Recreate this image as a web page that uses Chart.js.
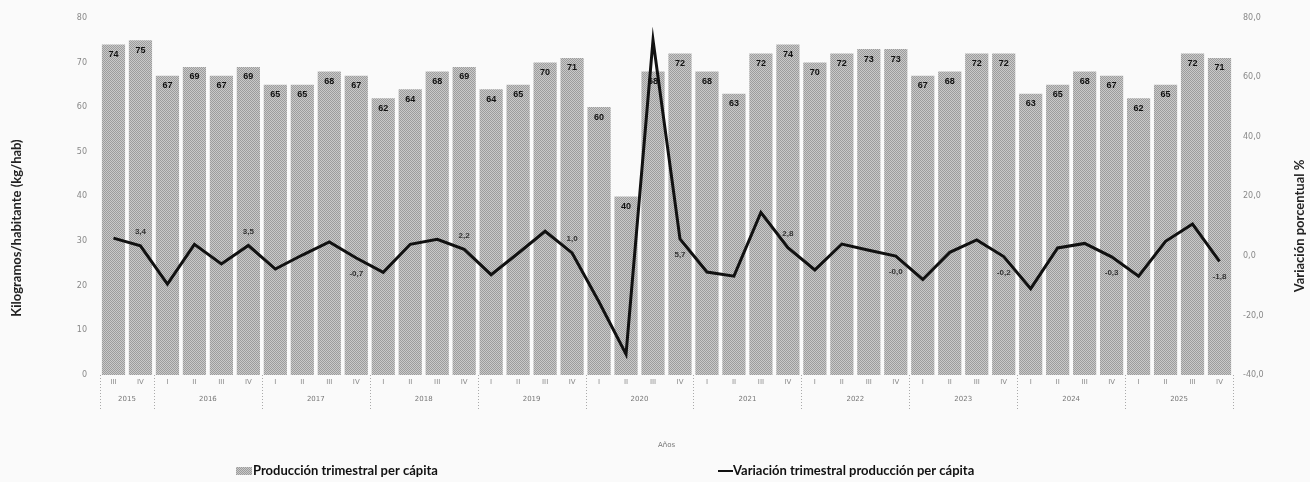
<!DOCTYPE html>
<html><head><meta charset="utf-8">
<script src="https://cdn.jsdelivr.net/npm/chart.js@4.4.1/dist/chart.umd.min.js"></script>
<style>html,body{margin:0;padding:0;background:#fafafa;}canvas{display:block;}</style>
</head><body>
<canvas id="c" width="1310" height="482"></canvas>
<script>
const quarters = ['III','IV','I','II','III','IV','I','II','III','IV','I','II','III','IV','I','II','III','IV','I','II','III','IV','I','II','III','IV','I','II','III','IV','I','II','III','IV','I','II','III','IV','I','II','III','IV'];
const quarterYears = ['2015','2015','2016','2016','2016','2016','2017','2017','2017','2017','2018','2018','2018','2018','2019','2019','2019','2019','2020','2020','2020','2020','2021','2021','2021','2021','2022','2022','2022','2022','2023','2023','2023','2023','2024','2024','2024','2024','2025','2025','2025','2025'];
const production = [74,75,67,69,67,69,65,65,68,67,62,64,68,69,64,65,70,71,60,40,68,72,68,63,72,74,70,72,73,73,67,68,72,72,63,65,68,67,62,65,72,71];
const variation = [6.0,3.4,-9.5,3.9,-2.7,3.5,-4.4,0.3,4.7,-0.7,-5.5,3.9,5.6,2.2,-6.3,0.9,8.3,1.0,-15.5,-33.0,72.5,5.7,-5.4,-6.8,14.6,2.8,-4.7,4.0,1.9,-0.04,-7.9,1.2,5.4,-0.2,-11.0,2.7,4.2,-0.3,-6.8,4.9,10.7,-1.8];
const seriesNames = ['Producción trimestral per cápita','Variación trimestral producción per cápita'];
const leftTitle = 'Kilogramos/habitante (kg/hab)';
const rightTitle = 'Variación porcentual %';
const xTitle = 'Años';

function makePattern(){
  const c=document.createElement('canvas'); c.width=4; c.height=4;
  const g=c.getContext('2d');
  g.fillStyle='#c9c9c9'; g.fillRect(0,0,4,4);
  g.fillStyle='#9c9c9c';
  for(let y=0;y<4;y++) for(let x=0;x<4;x++) if((x+y)%2===0) g.fillRect(x,y,1,1);
  return g.createPattern(c,'repeat');
}
const barFill = makePattern();
const fmt = v => v.toFixed(1).replace('.',',');

const overlay = {
  id:'overlay',
  afterDatasetsDraw(chart){
    const ctx=chart.ctx;
    ctx.save();
    ctx.textAlign='center'; ctx.textBaseline='middle';
    ctx.font='bold 9px "Liberation Sans"'; ctx.fillStyle='#111';
    chart.getDatasetMeta(0).data.forEach((el,i)=>{ ctx.fillText(String(production[i]), el.x, el.y+10); });
    ctx.font='bold 8px "Liberation Sans"'; ctx.fillStyle='#333';
    chart.getDatasetMeta(1).data.forEach((el,i)=>{
      if(quarters[i]!=='IV') return;
      const below = variation[i] <= 0 || i===21;
      ctx.fillText(fmt(variation[i]), el.x, el.y + (below?16:-14));
    });
    ctx.restore();
  },
  afterDraw(chart){
    const ctx=chart.ctx, area=chart.chartArea, xs=chart.scales.x;
    const pitch = (xs.getPixelForValue(1)-xs.getPixelForValue(0));
    ctx.save();
    const groups=[];
    quarterYears.forEach((y,i)=>{ if(!groups.length||groups[groups.length-1].y!==y) groups.push({y,s:i,e:i}); else groups[groups.length-1].e=i; });
    ctx.strokeStyle='#aaa'; ctx.lineWidth=1; ctx.setLineDash([1,2]);
    const edges=[];
    groups.forEach(g=>{ edges.push(xs.getPixelForValue(g.s)-pitch/2); });
    edges.push(xs.getPixelForValue(groups[groups.length-1].e)+pitch/2);
    edges.forEach(x=>{ ctx.beginPath(); ctx.moveTo(Math.round(x)+0.5, area.bottom); ctx.lineTo(Math.round(x)+0.5, area.bottom+36); ctx.stroke(); });
    ctx.setLineDash([]);
    ctx.font='7px "DejaVu Sans"'; ctx.fillStyle='#777'; ctx.textAlign='center'; ctx.textBaseline='middle';
    groups.forEach(g=>{ const cx=(xs.getPixelForValue(g.s)+xs.getPixelForValue(g.e))/2; ctx.fillText(g.y, cx, area.bottom+24); });
    ctx.fillText(xTitle, (area.left+area.right)/2, 445);
    // axis titles
    ctx.font='bold 13px Lato'; ctx.fillStyle='#222';
    ctx.save(); ctx.translate(17,228); ctx.rotate(-Math.PI/2); ctx.fillText(leftTitle,0,0); ctx.restore();
    ctx.save(); ctx.translate(1300,226); ctx.rotate(-Math.PI/2); ctx.fillText(rightTitle,0,0); ctx.restore();
    // legend
    ctx.font='bold 13px Lato'; ctx.textAlign='left';
    const ly=471;
    ctx.fillStyle=barFill; ctx.fillRect(236,ly-4,16,8);
    ctx.fillStyle='#111'; ctx.fillText(seriesNames[0], 253, ly);
    ctx.strokeStyle='#111'; ctx.lineWidth=2; ctx.beginPath(); ctx.moveTo(718,ly); ctx.lineTo(733,ly); ctx.stroke();
    ctx.fillText(seriesNames[1], 733, ly);
    ctx.restore();
  }
};

new Chart(document.getElementById('c'),{
  data:{
    labels: quarters,
    datasets:[
      {type:'bar', label:seriesNames[0], data:production, backgroundColor:barFill, borderWidth:0, yAxisID:'y', order:1, barPercentage:0.86, categoryPercentage:1.0},
      {type:'line', label:seriesNames[1], data:variation, borderColor:'#111', borderWidth:3, pointRadius:0, tension:0, yAxisID:'y1', order:0}
    ]
  },
  options:{
    responsive:false, animation:false, devicePixelRatio:1,
    layout:{padding:{top:17,bottom:21,left:0,right:0}},
    plugins:{legend:{display:false}, tooltip:{enabled:false}},
    scales:{
      x:{grid:{display:false,drawTicks:false}, border:{display:false},
         ticks:{autoSkip:false,maxRotation:0,minRotation:0,font:{size:7,family:'DejaVu Sans'},color:'#888',padding:3},
         afterFit(s){ s.height=86; }},
      y:{position:'left', min:0, max:80, grid:{display:false,drawTicks:false}, border:{display:false},
         ticks:{stepSize:10,font:{size:8,family:'DejaVu Sans'},color:'#888',padding:13},
         afterFit(s){ s.width=100; }},
      y1:{position:'right', min:-40, max:80, grid:{display:false,drawTicks:false}, border:{display:false},
         ticks:{stepSize:20,font:{size:8,family:'DejaVu Sans'},color:'#888',padding:10,callback:v=>fmt(v)},
         afterFit(s){ s.width=77; }}
    }
  },
  plugins:[overlay]
});
</script>
</body></html>
